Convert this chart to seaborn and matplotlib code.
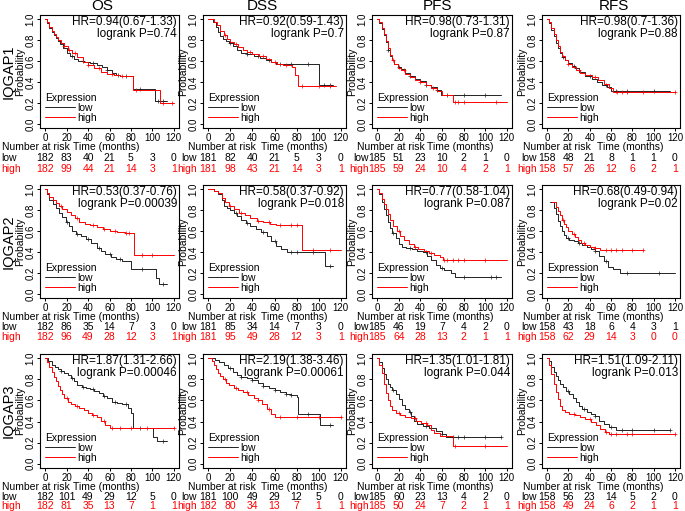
import numpy as np
import matplotlib
matplotlib.use("Agg")
import matplotlib.pyplot as plt
import matplotlib.transforms as mtransforms
from matplotlib.lines import Line2D
import seaborn as sns

genes = ["IQGAP1", "IQGAP2", "IQGAP3"]
endpoints = ["OS", "DSS", "PFS", "RFS"]
time_ticks = [0, 20, 40, 60, 80, 100, 120]
prob_ticks = [0.0, 0.2, 0.4, 0.6, 0.8, 1.0]

# HR / logrank labels, one per endpoint (OS, DSS, PFS, RFS)
hr_iqgap1 = ["HR=0.94(0.67-1.33)", "HR=0.92(0.59-1.43)", "HR=0.98(0.73-1.31)", "HR=0.98(0.7-1.36)"]
p_iqgap1 = ["logrank P=0.74", "logrank P=0.7", "logrank P=0.87", "logrank P=0.88"]
hr_iqgap2 = ["HR=0.53(0.37-0.76)", "HR=0.58(0.37-0.92)", "HR=0.77(0.58-1.04)", "HR=0.68(0.49-0.94)"]
p_iqgap2 = ["logrank P=0.00039", "logrank P=0.018", "logrank P=0.087", "logrank P=0.02"]
hr_iqgap3 = ["HR=1.87(1.31-2.66)", "HR=2.19(1.38-3.46)", "HR=1.35(1.01-1.81)", "HR=1.51(1.09-2.11)"]
p_iqgap3 = ["logrank P=0.00046", "logrank P=0.00061", "logrank P=0.044", "logrank P=0.013"]

# number at risk at 0, 20, ..., 120 months
risk_low_iqgap1 = [[182, 83, 40, 21, 5, 3, 0], [181, 82, 40, 21, 5, 3, 0],
                   [185, 51, 23, 10, 2, 1, 0], [158, 48, 21, 8, 1, 1, 0]]
risk_high_iqgap1 = [[182, 99, 44, 21, 14, 3, 1], [181, 98, 43, 21, 14, 3, 1],
                    [185, 59, 24, 10, 4, 2, 1], [158, 57, 26, 12, 6, 2, 1]]
risk_low_iqgap2 = [[182, 86, 35, 14, 7, 3, 0], [181, 85, 34, 14, 7, 3, 0],
                   [185, 46, 19, 7, 4, 2, 0], [158, 43, 18, 6, 4, 3, 1]]
risk_high_iqgap2 = [[182, 96, 49, 28, 12, 3, 1], [181, 95, 49, 28, 12, 3, 1],
                    [185, 64, 28, 13, 2, 1, 1], [158, 62, 29, 14, 3, 0, 0]]
risk_low_iqgap3 = [[182, 101, 49, 29, 12, 5, 0], [181, 100, 49, 29, 12, 5, 0],
                   [185, 60, 23, 13, 4, 2, 0], [158, 56, 23, 14, 5, 2, 0]]
risk_high_iqgap3 = [[182, 81, 35, 13, 7, 1, 1], [182, 80, 34, 13, 7, 1, 1],
                    [185, 50, 24, 7, 2, 1, 1], [158, 49, 24, 6, 2, 1, 1]]

# Kaplan-Meier steps: time (months), survival, censor times
iqgap1_os_low_t = [0, 2, 4, 6, 8, 10, 12, 14, 17, 20, 23, 27, 31, 36, 42, 48, 53, 58, 62, 66, 70, 82, 102, 114]
iqgap1_os_low_s = [1.0, 0.96, 0.92, 0.88, 0.85, 0.82, 0.79, 0.76, 0.72, 0.68, 0.65, 0.62, 0.60, 0.59, 0.58, 0.56, 0.54, 0.51, 0.49, 0.47, 0.46, 0.33, 0.22, 0.22]
iqgap1_os_low_c = [25, 35, 45, 58, 68, 75, 88, 105, 110]
iqgap1_os_high_t = [0, 2, 4, 6, 8, 10, 12, 15, 18, 21, 25, 30, 35, 40, 46, 52, 58, 64, 70, 82, 107, 120]
iqgap1_os_high_s = [1.0, 0.97, 0.93, 0.89, 0.86, 0.83, 0.80, 0.77, 0.74, 0.71, 0.68, 0.64, 0.59, 0.56, 0.53, 0.50, 0.48, 0.47, 0.46, 0.32, 0.20, 0.20]
iqgap1_os_high_c = [18, 22, 28, 40, 50, 62, 72, 85, 110, 118]

iqgap1_dss_low_t = [0, 4, 7, 9, 11, 13, 16, 19, 22, 26, 30, 35, 41, 47, 52, 57, 61, 100, 113]
iqgap1_dss_low_s = [1.0, 0.97, 0.93, 0.88, 0.84, 0.81, 0.79, 0.77, 0.74, 0.71, 0.68, 0.67, 0.65, 0.63, 0.61, 0.59, 0.57, 0.37, 0.37]
iqgap1_dss_low_c = [20, 35, 45, 55, 65, 75, 90, 105, 110]
iqgap1_dss_high_t = [0, 5, 8, 11, 14, 17, 20, 23, 27, 31, 35, 40, 46, 52, 57, 62, 68, 76, 79, 81, 116]
iqgap1_dss_high_s = [1.0, 0.97, 0.94, 0.89, 0.85, 0.81, 0.78, 0.76, 0.73, 0.71, 0.69, 0.67, 0.65, 0.62, 0.59, 0.57, 0.56, 0.545, 0.47, 0.36, 0.36]
iqgap1_dss_high_c = [15, 25, 38, 50, 60, 70, 85, 100, 110]

iqgap1_pfs_low_t = [0, 2, 4, 6, 8, 10, 12, 14, 16, 19, 22, 26, 30, 35, 40, 45, 50, 55, 59, 115]
iqgap1_pfs_low_s = [1.0, 0.96, 0.91, 0.85, 0.78, 0.71, 0.65, 0.61, 0.57, 0.54, 0.52, 0.49, 0.46, 0.43, 0.41, 0.37, 0.35, 0.32, 0.28, 0.28]
iqgap1_pfs_low_c = [10, 20, 30, 45, 55, 65, 80, 100]
iqgap1_pfs_high_t = [0, 2, 4, 6, 8, 10, 12, 14, 16, 19, 22, 26, 30, 35, 40, 45, 50, 55, 60, 70, 120]
iqgap1_pfs_high_s = [1.0, 0.97, 0.92, 0.86, 0.79, 0.72, 0.66, 0.61, 0.57, 0.53, 0.51, 0.48, 0.45, 0.42, 0.40, 0.37, 0.34, 0.31, 0.28, 0.21, 0.21]
iqgap1_pfs_high_c = [15, 25, 40, 52, 72, 75, 80, 110]

iqgap1_rfs_low_t = [0, 2, 4, 6, 8, 10, 12, 14, 17, 20, 23, 26, 30, 36, 42, 47, 52, 56, 60, 115]
iqgap1_rfs_low_s = [1.0, 0.96, 0.90, 0.84, 0.77, 0.72, 0.68, 0.64, 0.61, 0.58, 0.55, 0.53, 0.50, 0.46, 0.43, 0.40, 0.37, 0.35, 0.31, 0.31]
iqgap1_rfs_low_c = [15, 25, 40, 55, 65, 75, 100]
iqgap1_rfs_high_t = [0, 2, 4, 6, 8, 10, 12, 14, 17, 20, 23, 27, 31, 36, 42, 48, 53, 58, 62, 120]
iqgap1_rfs_high_s = [1.0, 0.97, 0.92, 0.86, 0.80, 0.74, 0.69, 0.65, 0.61, 0.57, 0.54, 0.51, 0.49, 0.47, 0.45, 0.42, 0.38, 0.34, 0.30, 0.30]
iqgap1_rfs_high_c = [20, 30, 45, 66, 70, 75, 90, 120]

iqgap2_os_low_t = [0, 2, 4, 7, 10, 13, 16, 19, 22, 25, 29, 33, 38, 43, 48, 52, 56, 61, 66, 72, 80, 103, 106, 114]
iqgap2_os_low_s = [1.0, 0.95, 0.90, 0.86, 0.82, 0.77, 0.73, 0.69, 0.65, 0.60, 0.57, 0.55, 0.52, 0.49, 0.44, 0.41, 0.38, 0.35, 0.33, 0.31, 0.24, 0.15, 0.09, 0.09]
iqgap2_os_low_c = [20, 30, 40, 50, 60, 70, 90, 110]
iqgap2_os_high_t = [0, 2, 4, 7, 10, 13, 16, 20, 24, 28, 32, 37, 42, 48, 54, 60, 67, 74, 83, 120]
iqgap2_os_high_s = [1.0, 0.96, 0.93, 0.90, 0.87, 0.84, 0.81, 0.78, 0.75, 0.72, 0.69, 0.67, 0.66, 0.64, 0.62, 0.60, 0.59, 0.58, 0.37, 0.37]
iqgap2_os_high_c = [15, 30, 45, 55, 65, 75, 78, 90, 100]

iqgap2_dss_low_t = [0, 5, 9, 12, 14, 17, 20, 23, 26, 30, 34, 38, 43, 48, 53, 57, 61, 66, 71, 106, 113]
iqgap2_dss_low_s = [1.0, 0.98, 0.95, 0.90, 0.84, 0.82, 0.80, 0.77, 0.74, 0.71, 0.68, 0.65, 0.62, 0.59, 0.55, 0.50, 0.46, 0.43, 0.40, 0.27, 0.27]
iqgap2_dss_low_c = [25, 35, 50, 60, 75, 80, 95, 110]
iqgap2_dss_high_t = [0, 5, 9, 12, 15, 19, 23, 28, 33, 38, 44, 50, 56, 61, 85, 120]
iqgap2_dss_high_s = [1.0, 0.98, 0.96, 0.92, 0.88, 0.84, 0.81, 0.77, 0.75, 0.72, 0.70, 0.69, 0.67, 0.66, 0.42, 0.42]
iqgap2_dss_high_c = [20, 30, 45, 55, 65, 75, 80, 95, 110]

iqgap2_pfs_low_t = [0, 2, 4, 6, 8, 10, 12, 14, 17, 20, 23, 27, 32, 37, 42, 46, 50, 54, 58, 62, 68, 72, 115]
iqgap2_pfs_low_s = [1.0, 0.95, 0.88, 0.81, 0.75, 0.69, 0.63, 0.58, 0.53, 0.48, 0.45, 0.44, 0.43, 0.41, 0.40, 0.36, 0.32, 0.28, 0.25, 0.23, 0.20, 0.16, 0.16]
iqgap2_pfs_low_c = [15, 30, 45, 60, 80, 105, 110]
iqgap2_pfs_high_t = [0, 2, 4, 6, 8, 10, 12, 15, 18, 21, 25, 29, 34, 38, 43, 48, 53, 58, 61, 120]
iqgap2_pfs_high_s = [1.0, 0.96, 0.91, 0.86, 0.81, 0.76, 0.71, 0.65, 0.60, 0.55, 0.51, 0.48, 0.45, 0.43, 0.41, 0.39, 0.37, 0.35, 0.32, 0.32]
iqgap2_pfs_high_c = [20, 35, 50, 62, 65, 70, 75, 80, 100]

iqgap2_rfs_low_t = [3, 6, 8, 10, 12, 14, 16, 18, 21, 25, 29, 33, 37, 41, 45, 49, 53, 57, 62, 68, 120]
iqgap2_rfs_low_s = [0.88, 0.82, 0.76, 0.70, 0.65, 0.60, 0.56, 0.53, 0.51, 0.50, 0.49, 0.47, 0.45, 0.43, 0.41, 0.36, 0.31, 0.26, 0.24, 0.20, 0.20]
iqgap2_rfs_low_c = [20, 30, 45, 55, 75, 105]
iqgap2_rfs_high_t = [5, 8, 10, 12, 14, 16, 18, 20, 23, 26, 29, 32, 36, 40, 45, 50, 90]
iqgap2_rfs_high_s = [0.88, 0.83, 0.79, 0.75, 0.71, 0.67, 0.64, 0.60, 0.57, 0.54, 0.51, 0.49, 0.47, 0.45, 0.44, 0.42, 0.42]
iqgap2_rfs_high_c = [15, 25, 35, 45, 55, 60, 65, 70, 80, 90]

iqgap3_os_low_t = [0, 3, 6, 9, 12, 15, 18, 21, 24, 27, 30, 34, 38, 42, 46, 50, 54, 58, 62, 67, 72, 77, 80, 82, 101, 104, 114]
iqgap3_os_low_s = [1.0, 0.97, 0.94, 0.92, 0.90, 0.88, 0.86, 0.84, 0.81, 0.78, 0.75, 0.73, 0.72, 0.71, 0.69, 0.67, 0.64, 0.62, 0.59, 0.58, 0.57, 0.53, 0.48, 0.34, 0.25, 0.22, 0.22]
iqgap3_os_low_c = [15, 25, 35, 45, 55, 65, 75, 88, 110]
iqgap3_os_high_t = [0, 2, 4, 6, 8, 10, 12, 14, 16, 18, 21, 24, 28, 32, 36, 40, 44, 48, 52, 56, 60, 120]
iqgap3_os_high_s = [1.0, 0.96, 0.92, 0.87, 0.82, 0.78, 0.74, 0.70, 0.66, 0.62, 0.59, 0.57, 0.55, 0.53, 0.51, 0.48, 0.46, 0.44, 0.41, 0.37, 0.34, 0.34]
iqgap3_os_high_c = [20, 30, 45, 55, 62, 70, 80, 95, 120]

iqgap3_dss_low_t = [0, 6, 10, 14, 18, 22, 26, 30, 35, 40, 45, 50, 55, 60, 65, 70, 75, 80, 81, 101, 113]
iqgap3_dss_low_s = [1.0, 0.98, 0.96, 0.94, 0.91, 0.87, 0.84, 0.82, 0.81, 0.79, 0.77, 0.74, 0.72, 0.70, 0.68, 0.66, 0.65, 0.63, 0.47, 0.37, 0.37]
iqgap3_dss_low_c = [20, 30, 40, 50, 60, 70, 75, 90, 110]
iqgap3_dss_high_t = [0, 3, 5, 7, 9, 11, 13, 16, 19, 23, 27, 31, 36, 41, 45, 49, 53, 57, 60, 120]
iqgap3_dss_high_s = [1.0, 0.97, 0.94, 0.90, 0.86, 0.83, 0.80, 0.77, 0.75, 0.72, 0.70, 0.68, 0.65, 0.62, 0.60, 0.57, 0.52, 0.47, 0.44, 0.44]
iqgap3_dss_high_c = [15, 25, 35, 45, 55, 65, 80, 100, 120]

iqgap3_pfs_low_t = [0, 2, 4, 6, 8, 10, 12, 14, 17, 20, 23, 26, 29, 31, 34, 37, 42, 48, 54, 60, 64, 115]
iqgap3_pfs_low_s = [1.0, 0.96, 0.91, 0.85, 0.80, 0.76, 0.73, 0.70, 0.66, 0.61, 0.56, 0.52, 0.49, 0.45, 0.41, 0.38, 0.36, 0.34, 0.31, 0.28, 0.25, 0.25]
iqgap3_pfs_low_c = [15, 30, 45, 60, 70, 75, 80, 100, 115]
iqgap3_pfs_high_t = [0, 2, 4, 6, 8, 10, 12, 14, 17, 21, 26, 31, 36, 41, 46, 50, 53, 58, 70, 120]
iqgap3_pfs_high_s = [1.0, 0.94, 0.86, 0.76, 0.67, 0.60, 0.55, 0.51, 0.48, 0.46, 0.44, 0.43, 0.41, 0.39, 0.37, 0.32, 0.29, 0.26, 0.17, 0.17]
iqgap3_pfs_high_c = [20, 35, 45, 72, 100]

iqgap3_rfs_low_t = [0, 2, 4, 6, 8, 10, 12, 15, 18, 21, 24, 27, 30, 33, 37, 41, 45, 49, 53, 58, 65, 115]
iqgap3_rfs_low_s = [1.0, 0.97, 0.92, 0.87, 0.83, 0.79, 0.76, 0.73, 0.69, 0.66, 0.62, 0.59, 0.55, 0.52, 0.49, 0.47, 0.45, 0.41, 0.38, 0.35, 0.32, 0.32]
iqgap3_rfs_low_c = [20, 35, 45, 60, 70, 80, 100, 115]
iqgap3_rfs_high_t = [0, 2, 4, 6, 8, 10, 12, 14, 17, 21, 26, 31, 36, 41, 46, 50, 54, 58, 120]
iqgap3_rfs_high_s = [1.0, 0.94, 0.85, 0.76, 0.68, 0.61, 0.55, 0.51, 0.49, 0.47, 0.46, 0.44, 0.42, 0.40, 0.37, 0.33, 0.30, 0.28, 0.28]
iqgap3_rfs_high_c = [25, 40, 55, 60, 65, 75, 80, 120]

LOW_COL = "#222222"
HIGH_COL = "#ff0000"
FS = 7.5       # at-risk table, labels, legend
FS_TICK = 7
FS_HR = 8.5

# panel boxes in pixels (figure is 685 x 511)
W, H = 685, 511
col_box = [(40, 179), (203, 346), (372, 512), (542, 680)]
row_box = [(15, 128), (185, 298), (354, 468)]
title_x = [102, 262, 437, 614]
number_x = [-38, -15, -15, -19]      # px from axes left
time_x = [0.475, 0.636, 0.63, 0.64]  # axes fraction
label_right = [None, -6, -3, -5]     # px from axes left, right-aligned low/high
risk_off = [(19, 30, 41), (19, 29, 39), (19, 28.5, 38)]


def draw_panel(ax, r, c):
    gene, ep = genes[r], endpoints[c]
    key = f"{gene.lower()}_{ep.lower()}"
    for grp, col in (("low", LOW_COL), ("high", HIGH_COL)):
        t = globals()[f"{key}_{grp}_t"]
        s = globals()[f"{key}_{grp}_s"]
        cens = globals()[f"{key}_{grp}_c"]
        sns.lineplot(x=t, y=s, drawstyle="steps-post", estimator=None, sort=False,
                     color=col, linewidth=0.7, ax=ax)
        idx = np.searchsorted(t, cens, side="right") - 1
        ax.plot(cens, np.array(s)[idx], ls="none", marker="+", ms=2.5, mew=0.5, color=col)

    ax.set_xlim(-4.8, 124.8)
    ax.set_ylim(-0.04, 1.04)
    ax.set_xticks(time_ticks)
    ax.set_yticks(prob_ticks)
    ax.set_yticklabels([f"{v:.1f}" for v in prob_ticks], rotation=90, va="center")
    ax.tick_params(length=2.5, width=0.7, pad=0.8, labelsize=FS_TICK, direction="out", colors="black")
    for sp in ax.spines.values():
        sp.set_visible(True)
        sp.set_linewidth(0.8)
        sp.set_color("black")

    w_px = col_box[c][1] - col_box[c][0]
    h_px = row_box[r][1] - row_box[r][0]
    ax.set_ylabel("Probability", fontsize=FS, labelpad=0)
    ax.yaxis.set_label_coords(-15 / w_px, 0.5)

    hr = globals()[f"hr_{gene.lower()}"][c]
    pv = globals()[f"p_{gene.lower()}"][c]
    ax.text(0.985, 0.935, hr, ha="right", va="center", transform=ax.transAxes, fontsize=FS_HR)
    ax.text(0.985, 0.83, pv, ha="right", va="center", transform=ax.transAxes, fontsize=FS_HR)

    handles = [Line2D([], [], color=LOW_COL, lw=0.7), Line2D([], [], color=HIGH_COL, lw=0.7)]
    ax.legend(handles, ["low", "high"], title="Expression", loc="lower left", frameon=False,
              fontsize=FS, title_fontsize=FS, alignment="left", handlelength=2.9,
              handletextpad=0.15, labelspacing=0.0, borderaxespad=0.2, borderpad=0.3)

    # number at risk table under the axis
    off_n, off_l, off_h = risk_off[r]
    ax.text(number_x[c] / w_px, -off_n / h_px, "Number at risk", transform=ax.transAxes,
            ha="left", va="center", fontsize=FS, clip_on=False)
    ax.text(time_x[c], -off_n / h_px, "Time (months)", transform=ax.transAxes,
            ha="center", va="center", fontsize=FS, clip_on=False)
    trans = mtransforms.blended_transform_factory(ax.transData, ax.transAxes)
    low_n = globals()[f"risk_low_{gene.lower()}"][c]
    high_n = globals()[f"risk_high_{gene.lower()}"][c]
    for tk, nl, nh in zip(time_ticks, low_n, high_n):
        ax.text(tk, -off_l / h_px, str(nl), transform=trans, ha="center", va="center",
                fontsize=FS, clip_on=False)
        ax.text(tk, -off_h / h_px, str(nh), transform=trans, ha="center", va="center",
                fontsize=FS, color=HIGH_COL, clip_on=False)
    if label_right[c] is None:
        lx, ha = -39 / w_px, "left"
    else:
        lx, ha = label_right[c] / w_px, "right"
    ax.text(lx, -off_l / h_px, "low", transform=ax.transAxes, ha=ha, va="center",
            fontsize=FS, clip_on=False)
    ax.text(lx, -off_h / h_px, "high", transform=ax.transAxes, ha=ha, va="center",
            fontsize=FS, color=HIGH_COL, clip_on=False)


sns.set_theme(style="ticks", rc={"axes.edgecolor": "black", "xtick.color": "black",
                                 "ytick.color": "black", "text.color": "black",
                                 "axes.labelcolor": "black"})
plt.rcParams["font.family"] = ["Liberation Sans", "DejaVu Sans"]

fig = plt.figure(figsize=(W / 100, H / 100), dpi=100)
for r in range(3):
    for c in range(4):
        x0, x1 = col_box[c]
        y0, y1 = row_box[r]
        ax = fig.add_axes([x0 / W, 1 - y1 / H, (x1 - x0) / W, (y1 - y0) / H])
        draw_panel(ax, r, c)

for c, ep in enumerate(endpoints):
    fig.text(title_x[c] / W, 1 - 6 / H, ep, ha="center", va="center", fontsize=11)
for r, gene in enumerate(genes):
    yc = (row_box[r][0] + row_box[r][1]) / 2
    fig.text(8.5 / W, 1 - yc / H, gene, rotation=90, ha="center", va="center", fontsize=10.5)

fig.savefig("out.png", dpi=100)
